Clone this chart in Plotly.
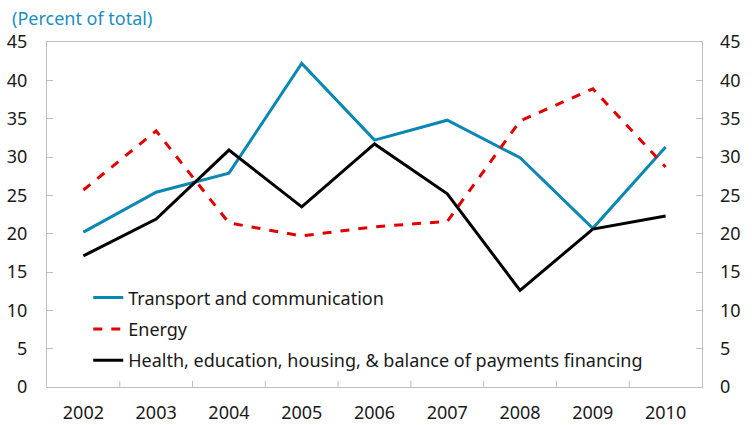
import plotly.graph_objects as go

years = ["2002", "2003", "2004", "2005", "2006", "2007", "2008", "2009", "2010"]
transport = [20.2, 25.4, 27.9, 42.2, 32.2, 34.8, 29.9, 20.7, 31.3]
energy = [25.7, 33.4, 21.4, 19.7, 20.9, 21.6, 34.7, 38.9, 28.7]
health = [17.1, 21.9, 30.9, 23.5, 31.7, 25.2, 12.6, 20.6, 22.3]

y_ticks = [0, 5, 10, 15, 20, 25, 30, 35, 40, 45]

FONT = "Noto Sans"
TEAL = "#0a87b2"
RED = "#e00000"
BLACK = "#000000"
TEXT = "#1a1a1a"
AXIS_LINE = "#bfbfbf"

series = [
    ("Transport and communication", transport, TEAL, "solid"),
    ("Energy", energy, RED, "dash"),
    ("Health, education, housing, & balance of payments financing", health, BLACK, "solid"),
]

fig = go.Figure()
for i, (name, vals, color, dash) in enumerate(series):
    fig.add_trace(go.Scatter(
        x=years, y=vals, name=name, mode="lines",
        line=dict(color=color, width=3, dash=dash),
        legendgroup=f"g{i}",
    ))

# mirror axis on the right carries the same scale
fig.add_trace(go.Scatter(x=years, y=health, yaxis="y2", mode="lines",
                         line=dict(width=0), showlegend=False, hoverinfo="skip"))

fig.update_layout(
    width=754, height=425,
    margin=dict(l=47, r=52, t=42, b=38),
    paper_bgcolor="white", plot_bgcolor="white",
    font=dict(family=FONT, color=TEXT),
    showlegend=True,
    legend=dict(
        x=0.063, y=0.312, xanchor="left", yanchor="top",
        bgcolor="rgba(0,0,0,0)", borderwidth=0,
        font=dict(family=FONT, size=18, color=TEXT),
        tracegroupgap=5,
    ),
    xaxis=dict(
        type="category", categoryorder="array", categoryarray=years,
        range=[-0.5, len(years) - 0.5], automargin=False,
        showgrid=False, showline=True, linecolor=AXIS_LINE, linewidth=1,
        mirror=True, ticks="", tickfont=dict(size=18, color=TEXT),
        ticklabelstandoff=9,
    ),
    yaxis=dict(
        range=[0, 45], tickvals=y_ticks, showgrid=False, zeroline=False,
        automargin=False,
        showline=True, linecolor=AXIS_LINE, linewidth=1, mirror=True,
        ticks="inside", ticklen=6, tickcolor=AXIS_LINE,
        tickfont=dict(size=18, color=TEXT), ticklabelstandoff=15,
    ),
    yaxis2=dict(
        range=[0, 45], tickvals=y_ticks, overlaying="y", side="right",
        showgrid=False, zeroline=False, showline=False, automargin=False,
        ticks="inside", ticklen=6, tickcolor=AXIS_LINE,
        tickfont=dict(size=18, color=TEXT), ticklabelstandoff=17,
    ),
)

# category separators along the bottom edge
for k in range(1, len(years)):
    fig.add_shape(type="line", xref="x", yref="y",
                  x0=k - 0.5, x1=k - 0.5, y0=0, y1=0.8,
                  line=dict(color=AXIS_LINE, width=1))

# subtitle above the plot
fig.add_annotation(
    text="(Percent of total)", xref="paper", yref="paper",
    x=-37 / 655, y=1 + 24 / 345, xanchor="left", yanchor="middle",
    showarrow=False, font=dict(family=FONT, size=18, color="#1a8fc0"),
)

fig.write_html("out.html")
